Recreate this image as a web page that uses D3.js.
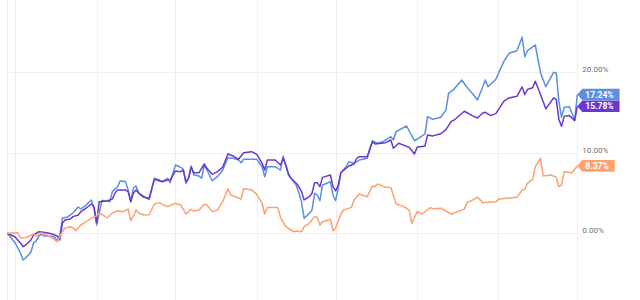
<!DOCTYPE html>
<html>
<head>
<meta charset="utf-8">
<script src="https://cdn.jsdelivr.net/npm/d3@7"></script>
<style>
  body { margin: 0; background: #fff; }
  svg { display: block; font-family: Roboto, "Noto Sans", sans-serif; }
</style>
</head>
<body>
<svg width="640" height="300"></svg>
<script>
// day offsets from start date, cumulative return in %
var startDate = new Date(Date.UTC(2023, 1, 26));
var totalDays = 217;

var blue = [[0,0],[3,-1.2],[5,-2.45],[6,-3.32],[7,-3.07],[9,-2.32],[10,-1.2],[11,-0.96],[12,-0.34],[13,-0.09],
  [14,-0.34],[16,-0.34],[18,-0.46],[19,-0.96],[20,-0.21],[21,1.9],[23,2.03],[25,2.52],[26,2.89],[27,3.27],
  [28,3.02],[30,3.51],[32,4.14],[33,3.14],[34,1.03],[35,2.52],[36,4.06],[37,4.06],[39,3.93],[40,5.18],
  [42,5.8],[43,6.51],[45,6.43],[46,5.38],[47,3.93],[48,5.63],[49,5.88],[50,5.0],[52,4.6],[54,4.2],
  [56,6.83],[58,6.62],[59,6.41],[61,6.83],[62,6.29],[64,8.48],[66,8.2],[67,7.95],[68,6.21],[69,6.83],
  [70,8.36],[71,7.24],[73,7.12],[74,6.83],[75,8.48],[76,7.86],[78,6.53],[80,7.03],[82,7.86],[84,9.39],
  [86,9.32],[88,9.1],[89,8.77],[90,9.19],[95,9.19],[97,8.27],[98,7.03],[99,8.27],[102,8.27],[104,7.86],
  [105,9.6],[106,8.48],[107,7.24],[108,6.83],[110,6.0],[111,5.0],[112,3.9],[113,1.86],[115,2.48],[116,2.89],
  [117,4.97],[118,4.76],[119,4.05],[120,6.0],[123,6.41],[124,4.76],[125,4.05],[126,5.59],[127,7.53],[129,8.27],
  [130,8.89],[132,8.7],[134,9.1],[137,9.32],[139,11.5],[141,11.18],[143,11.38],[146,12.0],[147,11.59],[148,12.62],
  [152,13.33],[155,11.5],[156,11.68],[159,12.34],[160,14.48],[162,14.16],[165,14.41],[167,15.3],[168,17.39],[170,17.89],
  [173,19.04],[175,18.14],[177,17.39],[179,16.56],[181,18.21],[182,19.04],[183,18.21],[186,19.13],[189,21.32],[191,22.36],
  [194,22.68],[196,24.35],[197,21.94],[198,22.68],[201,23.39],[203,19.95],[205,18.21],[208,20.0],[209,19.88],[210,16.35],
  [211,14.41],[212,15.65],[214,15.73],[216,14.07],[217,17.24]];

var purple = [[0,0],[3,-0.46],[5,-1.2],[6,-1.66],[7,-1.45],[9,-0.83],[10,-0.21],[12,0.2],[15,0.07],[17,-0.09],
  [19,-0.34],[20,-0.83],[21,1.28],[22,1.65],[24,1.78],[25,2.07],[27,2.27],[28,2.68],[30,3.14],[32,3.64],
  [33,3.31],[34,1.28],[35,3.93],[38,4.02],[40,4.26],[41,5.0],[42,5.38],[45,5.38],[46,5.18],[47,3.93],
  [48,5.0],[49,5.38],[50,5.0],[52,4.47],[54,4.35],[56,6.71],[59,6.41],[61,6.62],[62,6.62],[64,7.74],
  [66,7.66],[67,7.86],[68,6.41],[69,6.83],[70,8.2],[71,7.53],[73,7.53],[75,8.61],[76,8.07],[78,7.32],
  [80,7.66],[82,8.2],[84,9.85],[86,9.6],[88,9.19],[90,10.01],[93,10.14],[95,9.81],[97,8.69],[98,7.86],
  [99,9.1],[102,9.1],[104,8.48],[105,9.32],[106,8.48],[107,7.45],[108,6.83],[110,6.21],[111,5.8],[112,5.18],
  [113,4.14],[115,4.55],[116,4.97],[117,6.29],[118,6.29],[119,5.8],[120,6.95],[123,7.24],[124,5.8],[125,5.26],
  [126,6.0],[127,7.53],[130,8.36],[132,8.61],[133,9.32],[134,9.52],[137,9.52],[139,11.38],[140,11.09],[144,11.26],
  [146,11.59],[147,10.56],[149,11.18],[153,10.68],[155,9.85],[156,10.68],[159,10.85],[160,12.22],[162,12.1],[165,12.37],
  [167,12.88],[169,13.91],[170,14.04],[174,15.16],[177,14.62],[179,14.33],[181,14.95],[182,15.03],[184,14.62],[186,14.87],
  [189,16.4],[191,16.82],[194,17.02],[196,18.19],[197,17.24],[198,17.86],[200,18.07],[201,18.9],[203,17.24],[205,15.46],
  [208,16.82],[209,16.6],[210,14.12],[211,13.29],[212,14.53],[214,14.62],[216,14.0],[217,15.78]];

var orange = [[0,0],[4,0.07],[5,-0.58],[7,-0.55],[10,-0.09],[11,-0.34],[13,0.07],[15,-0.21],[17,-0.58],[19,-1.04],
  [21,0.2],[22,0.66],[24,0.82],[25,0.7],[26,0.32],[28,1.03],[30,1.44],[32,1.9],[34,2.15],[35,2.52],
  [37,2.15],[38,1.9],[40,2.52],[42,2.8],[44,2.68],[46,3.0],[47,1.57],[48,2.15],[49,2.89],[50,2.52],
  [52,2.27],[54,2.3],[56,3.64],[58,3.81],[59,3.6],[61,3.31],[64,3.73],[66,3.52],[68,2.4],[70,2.98],
  [71,2.77],[73,2.89],[75,3.6],[76,3.52],[78,2.69],[80,2.89],[82,3.93],[84,5.54],[85,4.8],[87,4.5],
  [89,4.26],[90,5.54],[93,5.42],[95,4.8],[97,3.73],[98,2.4],[99,3.19],[103,3.19],[104,1.99],[106,0.82],
  [108,0.41],[109,0.2],[110,0.29],[112,0.2],[113,0.82],[115,1.24],[117,2.07],[118,1.99],[119,1.03],[120,1.44],
  [123,1.74],[124,0.32],[125,0.62],[127,2.4],[128,2.89],[131,3.22],[132,4.14],[134,4.88],[137,4.55],[139,5.87],
  [140,5.79],[141,6.12],[144,5.71],[146,5.7],[148,3.68],[151,3.31],[153,2.89],[154,1.24],[156,2.69],[158,2.4],
  [161,3.19],[162,3.06],[165,3.11],[169,2.4],[174,3.0],[175,3.81],[177,4.1],[179,4.5],[181,3.81],[183,3.85],
  [186,3.93],[187,4.22],[190,4.35],[194,4.47],[196,5.38],[197,5.46],[198,6.21],[200,6.71],[201,8.29],[203,9.32],
  [204,7.12],[207,7.24],[209,6.95],[210,5.79],[211,6.0],[212,7.66],[215,7.53],[217,8.37]];

var yTicks = [0, 10, 20];

var seriesList = [
  {name: "blue", data: blue, color: "#5b8fe0"},
  {name: "purple", data: purple, color: "#6a38cf"},
  {name: "orange", data: orange, color: "#ffa06e"}
];

var svg = d3.select("svg");

var x = d3.scaleUtc()
  .domain([startDate, d3.utcDay.offset(startDate, totalDays)])
  .range([7.3, 577.3]);

var y = d3.scaleLinear()
  .domain([0, 20])
  .range([233.3, 72.3]);

var toDate = function(d) { return d3.utcDay.offset(startDate, d[0]); };

// grid
var grid = svg.append("g").attr("stroke", "#efefef").attr("stroke-width", 1);
var monthTicks = x.ticks(d3.utcMonth.every(1));
monthTicks.unshift(startDate);
grid.selectAll(".vg")
  .data(monthTicks)
  .enter().append("line")
    .attr("x1", function(d) { return Math.round(x(d)) + 0.5; })
    .attr("x2", function(d) { return Math.round(x(d)) + 0.5; })
    .attr("y1", 0)
    .attr("y2", 300);
grid.selectAll(".hg")
  .data(yTicks)
  .enter().append("line")
    .attr("x1", x.range()[0])
    .attr("x2", x.range()[1])
    .attr("y1", function(d) { return Math.round(y(d)) + 0.5; })
    .attr("y2", function(d) { return Math.round(y(d)) + 0.5; });

// right axis labels
var axis = svg.append("g")
  .attr("transform", "translate(" + x.range()[1] + ",0)")
  .call(d3.axisRight(y).tickValues(yTicks).tickSize(0).tickPadding(5)
    .tickFormat(function(d) { return d3.format(".2f")(d) + "%"; }));
axis.select(".domain").remove();
axis.selectAll("text")
  .attr("dy", "-0.1em")
  .attr("fill", "#707070")
  .style("font-size", "8px")
  .style("font-family", "Roboto, sans-serif");

// lines
var line = d3.line()
  .x(function(d) { return x(toDate(d)); })
  .y(function(d) { return y(d[1]); });

svg.append("g")
  .selectAll("path")
  .data(seriesList)
  .enter().append("path")
    .attr("d", function(s) { return line(s.data); })
    .attr("fill", "none")
    .attr("stroke", function(s) { return s.color; })
    .attr("stroke-width", 1.5)
    .attr("stroke-linejoin", "round");

// end value callouts
var callouts = svg.append("g");
seriesList.forEach(function(s) {
  var last = s.data[s.data.length - 1];
  var cy = y(last[1]);
  var x0 = x(toDate(last));
  var g = callouts.append("g");
  var path = g.append("path").attr("fill", s.color);
  var txt = g.append("text")
    .attr("x", x0 + 8)
    .attr("y", cy)
    .attr("dy", "0.36em")
    .attr("fill", "#fff")
    .style("font-size", "8.5px")
    .style("font-weight", "bold")
    .text(d3.format(".2f")(last[1]) + "%");
  var w = txt.node().getComputedTextLength();
  var h = 5.8;
  var bx = x0 + 5;
  var ex = x0 + 8 + w + 6;
  path.attr("d", "M" + x0 + "," + cy + "L" + bx + "," + (cy - h) + "L" + ex + "," + (cy - h) +
    "L" + ex + "," + (cy + h) + "L" + bx + "," + (cy + h) + "Z");
});
</script>
</body>
</html>
